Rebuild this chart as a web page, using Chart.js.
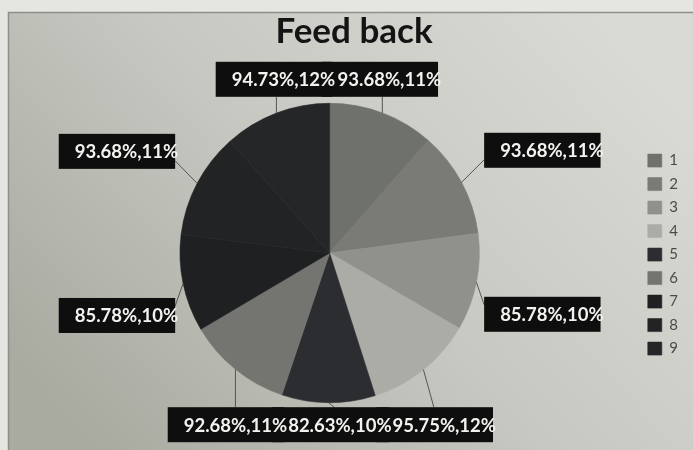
<!DOCTYPE html>
<html>
<head>
<meta charset="utf-8">
<script src="https://cdn.jsdelivr.net/npm/chart.js@4/dist/chart.umd.min.js"></script>
<style>
  html, body { margin: 0; padding: 0; background: #e5e5e1; }
  #wrap { width: 693px; height: 450px; }
</style>
</head>
<body>
<div id="wrap"><canvas id="pieChart" width="693" height="450"></canvas></div>
<script>
// chart data (clockwise from 12 o'clock)
const sliceLabels = ["1", "2", "3", "4", "5", "6", "7", "8", "9"];
const feedbackScores = [93.68, 93.68, 85.78, 95.75, 82.63, 92.68, 85.78, 93.68, 94.73];
const sliceColors = ["#6f716c", "#7a7b77", "#90918c", "#abaca6", "#2c2d30", "#747571", "#1f2021", "#222324", "#252627"];

// photographed paper + chart frame behind everything
const paperBackground = {
    id: "paperBackground",
    beforeDraw(chart) {
        const ctx = chart.ctx;
        const w = chart.width, h = chart.height;
        ctx.save();
        ctx.fillStyle = "#e5e5e1";
        ctx.fillRect(0, 0, w, h);
        const grad = ctx.createLinearGradient(w * 0.85, 0, w * 0.15, h);
        grad.addColorStop(0, "#dadad5");
        grad.addColorStop(0.5, "#c7c8c2");
        grad.addColorStop(1, "#a9aba1");
        ctx.fillStyle = grad;
        ctx.fillRect(8.5, 12.5, w, h);
        ctx.strokeStyle = "#8e8f8a";
        ctx.lineWidth = 1.5;
        ctx.beginPath();
        ctx.moveTo(8.5, h);
        ctx.lineTo(8.5, 12.5);
        ctx.lineTo(w, 12.5);
        ctx.stroke();
        ctx.restore();
    }
};

// black callout boxes with leader lines, like the excel data labels
const calloutLabels = {
    id: "calloutLabels",
    afterDatasetsDraw(chart) {
        const ctx = chart.ctx;
        const meta = chart.getDatasetMeta(0);
        const data = chart.data.datasets[0].data;
        const total = data.reduce((a, b) => a + b, 0);
        const boxH = 35, padL = 16, padR = -3;

        ctx.save();
        ctx.font = "bold 18.5px Lato";

        const items = meta.data.map((arc, i) => {
            const p = arc.getProps(["x", "y", "startAngle", "endAngle", "outerRadius"], true);
            const mid = (p.startAngle + p.endAngle) / 2;
            const r = p.outerRadius;
            const ax = p.x + Math.cos(mid) * r;
            const ay = p.y + Math.sin(mid) * r;
            const text = data[i].toFixed(2) + "%," + Math.round(data[i] / total * 100) + "%";
            const tw = ctx.measureText(text).width;
            let side;
            if (Math.abs(Math.cos(mid)) > 0.8) side = Math.cos(mid) > 0 ? "right" : "left";
            else side = Math.sin(mid) < 0 ? "top" : "bottom";

            let tx, cy;
            if (side === "right" || side === "left") {
                const dir = side === "right" ? 1 : -1;
                const bw = tw + padL + padR;
                const bcx = p.x + dir * (r + 63);
                tx = bcx - bw / 2 + padL + tw / 2;
                cy = ay + (Math.sin(mid) < 0 ? -32 : 32);
            } else if (side === "top") {
                tx = ax + 7;
                cy = p.y - r - 24;
            } else {
                tx = ax;
                cy = p.y + r + 22;
            }
            return { ax, ay, tw, text, side, tx, cy };
        });

        // push overlapping top / bottom labels to the right
        ["top", "bottom"].forEach(s => {
            const row = items.filter(it => it.side === s).sort((a, b) => a.tx - b.tx);
            for (let k = 1; k < row.length; k++) {
                const minX = row[k - 1].tx + (row[k - 1].tw + row[k].tw) / 2 + 1;
                if (row[k].tx < minX) row[k].tx = minX;
            }
        });

        items.forEach(it => {
            it.left = it.tx - it.tw / 2 - padL;
            it.right = it.tx + it.tw / 2 + padR;
            it.top = it.cy - boxH / 2;
            it.bottom = it.cy + boxH / 2;
        });

        // leader lines
        ctx.strokeStyle = "#555653";
        ctx.lineWidth = 1;
        items.forEach(it => {
            let ex, ey;
            if (it.side === "right" || it.side === "left") {
                ex = it.side === "right" ? it.left : it.right;
                ey = Math.min(Math.max(it.ay, it.top + 8), it.bottom - 8);
            } else if (it.side === "top") {
                ex = it.ax;
                ey = it.bottom;
            } else {
                ex = it.ax + (it.tx - it.ax) * 0.5;
                ey = it.top;
            }
            ctx.beginPath();
            ctx.moveTo(it.ax, it.ay);
            ctx.lineTo(ex, ey);
            ctx.stroke();
        });

        // boxes first, then text so merged boxes don't hide text
        ctx.fillStyle = "#0e0e0e";
        items.forEach(it => ctx.fillRect(it.left, it.top, it.right - it.left, boxH));

        ctx.fillStyle = "#f2f2ef";
        ctx.textAlign = "center";
        ctx.textBaseline = "middle";
        items.forEach(it => ctx.fillText(it.text, it.tx, it.cy + 1));
        ctx.restore();
    }
};

new Chart(document.getElementById("pieChart"), {
    type: "pie",
    data: {
        labels: sliceLabels,
        datasets: [{
            data: feedbackScores,
            backgroundColor: sliceColors,
            borderColor: sliceColors,
            borderWidth: 0.6
        }]
    },
    options: {
        responsive: false,
        animation: false,
        layout: { padding: { left: 20, right: 5, top: 0, bottom: 47 } },
        plugins: {
            title: {
                display: true,
                text: "Feed back",
                color: "#141414",
                font: { family: "Lato", size: 35, weight: "bold" },
                padding: { top: 11, bottom: 50 }
            },
            legend: {
                position: "right",
                title: {
                    display: true,
                    text: "",
                    font: { size: 1 },
                    padding: { top: 105, bottom: 0 }
                },
                labels: {
                    boxWidth: 14,
                    boxHeight: 13,
                    padding: 8.5,
                    color: "#4a4a48",
                    font: { family: "Lato", size: 15 }
                }
            },
            tooltip: { enabled: false }
        }
    },
    plugins: [paperBackground, calloutLabels]
});
</script>
</body>
</html>
